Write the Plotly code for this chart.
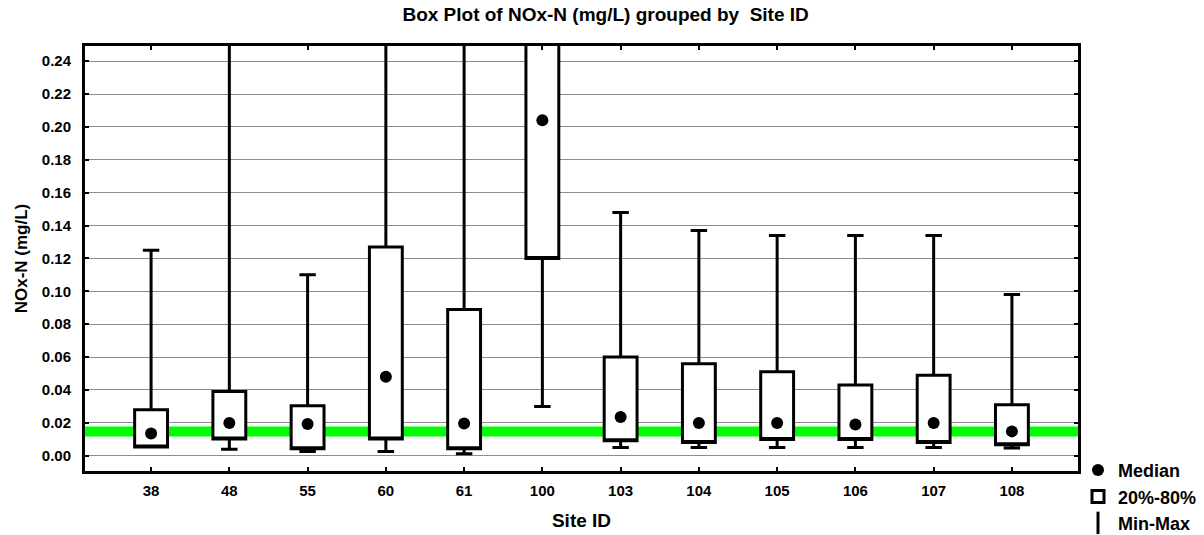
import plotly.graph_objects as go

# ---- data ----
sites = ["38", "48", "55", "60", "61", "100", "103", "104", "105", "106", "107", "108"]
minimum = [0.0053, 0.0040, 0.0026, 0.0026, 0.0012, 0.0300, 0.0050, 0.0050, 0.0050, 0.0050, 0.0050, 0.0047]
p20 = [0.0053, 0.0101, 0.0043, 0.0101, 0.0043, 0.1200, 0.0091, 0.0080, 0.0098, 0.0098, 0.0080, 0.0067]
median = [0.0135, 0.0199, 0.0193, 0.0480, 0.0196, 0.2040, 0.0235, 0.0199, 0.0199, 0.0190, 0.0199, 0.0148]
p80 = [0.0279, 0.0390, 0.0304, 0.1270, 0.0890, 0.3000, 0.0600, 0.0560, 0.0510, 0.0430, 0.0490, 0.0310]
maximum = [0.1250, 0.3200, 0.1100, 0.4500, 0.3800, 0.6000, 0.1480, 0.1370, 0.1340, 0.1340, 0.1340, 0.0980]
threshold = 0.0148

y_ticks = [0.00, 0.02, 0.04, 0.06, 0.08, 0.10, 0.12, 0.14, 0.16, 0.18, 0.20, 0.22, 0.24]
y_range = [-0.0093, 0.2492]

FONT = "Liberation Sans, Arial, sans-serif"

fig = go.Figure()

# boxes (20%-80%) with Min-Max whiskers; median line hidden on the lower edge
fig.add_trace(go.Box(
    x=sites, q1=p20, median=p20, q3=p80,
    lowerfence=minimum, upperfence=maximum,
    boxpoints=False, width=0.42, whiskerwidth=0.5,
    fillcolor="white", line=dict(color="black", width=3),
    name="20%-80%", legendrank=2, hoverinfo="skip",
))

# medians as dots
fig.add_trace(go.Scatter(
    x=sites, y=median, mode="markers",
    marker=dict(symbol="circle", size=12, color="black"),
    name="Median", legendrank=1,
))

# legend-only entry for min-max
fig.add_trace(go.Scatter(
    x=[None], y=[None], mode="markers",
    marker=dict(symbol="line-ns", size=18, color="black",
                line=dict(color="black", width=3)),
    name="Min-Max", legendrank=3,
))

fig.add_shape(type="line", xref="paper", x0=0, x1=1, yref="y",
              y0=threshold, y1=threshold,
              line=dict(color="#00FF00", width=10), layer="between")

fig.update_layout(
    width=1204, height=535,
    margin=dict(l=85, r=126, t=46, b=64, autoexpand=False),
    paper_bgcolor="white", plot_bgcolor="white",
    font=dict(family=FONT, size=15, color="black", weight="bold"),
    title=dict(text="Box Plot of NOx-N (mg/L) grouped by \u00a0Site ID",
               x=0.503, xref="container", xanchor="center",
               y=1 - 14 / 535, yref="container", yanchor="middle",
               font=dict(family=FONT, size=19, color="black", weight="bold")),
    showlegend=True,
    legend=dict(x=1.0, xanchor="left", y=0.045, yanchor="top",
                font=dict(family=FONT, size=18, color="black", weight="bold"),
                bgcolor="rgba(0,0,0,0)", itemwidth=30, traceorder="normal"),
    xaxis=dict(type="category", categoryorder="array", categoryarray=sites,
               showline=True, linewidth=3, linecolor="black", mirror="ticks",
               ticks="inside", ticklen=4, tickwidth=2, tickcolor="black",
               showgrid=False, zeroline=False, ticklabelstandoff=4,
               tickfont=dict(family=FONT, size=15, color="black", weight="bold"),
               title=dict(text="Site ID", standoff=16,
                          font=dict(family=FONT, size=19, color="black", weight="bold"))),
    yaxis=dict(range=y_range, tickvals=y_ticks, tickformat=".2f",
               showline=True, linewidth=3, linecolor="black", mirror="ticks",
               ticks="inside", ticklen=4, tickwidth=2, tickcolor="black",
               showgrid=True, gridcolor="#8c8c8c", gridwidth=1.3, zeroline=False,
               ticklabelstandoff=8,
               tickfont=dict(family=FONT, size=15, color="black", weight="bold"),
               title=dict(text="NOx-N (mg/L)", standoff=10,
                          font=dict(family=FONT, size=17, color="black", weight="bold"))),
)

fig.write_html("out.html")
